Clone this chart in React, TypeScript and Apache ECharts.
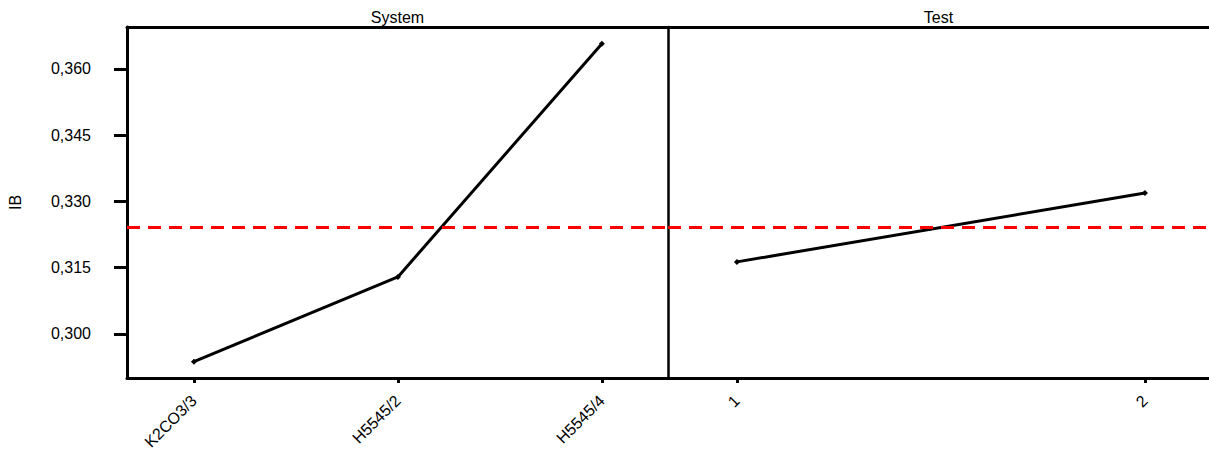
import React, { useEffect, useRef } from "react";
import * as echarts from "echarts";

// Main effects plot for IB: factor level means and the grand mean
const systemLevels = ["K2CO3/3", "H5545/2", "H5545/4"];
const systemMeans = [0.2937, 0.3129, 0.3657];
const testLevels = ["1", "2"];
const testMeans = [0.3163, 0.3319];
const grandMean = 0.3241;
const yTickValues = [0.3, 0.315, 0.33, 0.345, 0.36];

const FONT = 'Arial, "Liberation Sans", sans-serif';
const Y_MIN = 0.29;
const Y_MAX = 0.3695;

export default function App() {
  const ref = useRef<HTMLDivElement>(null);

  useEffect(() => {
    if (!ref.current) return;
    const chart = echarts.init(ref.current, null, { renderer: "svg" });

    const fmtY = (v: number) => v.toFixed(3).replace(".", ",");
    const sysIdx = systemLevels.map((_, i) => i);
    const testIdx = testLevels.map((_, i) => i);

    const bottomAxis = (gridIndex: number, min: number, max: number, idx: number[], names: string[]) => ({
      type: "value",
      gridIndex,
      position: "bottom",
      min,
      max,
      splitLine: { show: false },
      axisLine: { show: true, onZero: false, lineStyle: { color: "#000", width: 3 } },
      axisTick: { show: true, customValues: idx, length: 5, lineStyle: { color: "#000", width: 3 } },
      axisLabel: {
        show: true,
        customValues: idx,
        rotate: 45,
        margin: 20,
        color: "#000",
        fontFamily: FONT,
        fontSize: 16,
        formatter: (v: number) => names[Math.round(v)] ?? "",
      },
    });

    const topAxis = (gridIndex: number, min: number, max: number, name: string) => ({
      type: "value",
      gridIndex,
      position: "top",
      min,
      max,
      name,
      nameLocation: "middle",
      nameGap: 2,
      nameTextStyle: { color: "#000", fontFamily: FONT, fontSize: 16 },
      splitLine: { show: false },
      axisLine: { show: true, onZero: false, lineStyle: { color: "#000", width: 3 } },
      axisTick: { show: false },
      axisLabel: { show: false },
    });

    const meanLine = {
      silent: true,
      symbol: "none",
      precision: 6,
      label: { show: false },
      lineStyle: { color: "#ff0000", width: 3, type: [13, 8] },
      data: [{ yAxis: grandMean }],
    };

    const lineSeries = (xAxisIndex: number, yAxisIndex: number, values: number[]) => ({
      type: "line",
      xAxisIndex,
      yAxisIndex,
      data: values.map((v, i) => [i, v]),
      symbol: "diamond",
      symbolSize: 6,
      itemStyle: { color: "#000" },
      lineStyle: { color: "#000", width: 3 },
      markLine: meanLine,
      z: 3,
    });

    chart.setOption({
      animation: false,
      backgroundColor: "#fff",
      grid: [
        { left: 127, top: 27, width: 541, height: 351, outerBoundsMode: "none", containLabel: false },
        { left: 668, top: 27, width: 541, height: 351, outerBoundsMode: "none", containLabel: false },
      ],
      xAxis: [
        bottomAxis(0, -0.328, 2.324, sysIdx, systemLevels),
        bottomAxis(1, -0.169, 1.157, testIdx, testLevels),
        topAxis(0, -0.328, 2.324, "System"),
        topAxis(1, -0.169, 1.157, "Test"),
      ],
      yAxis: [
        {
          type: "value",
          gridIndex: 0,
          min: Y_MIN,
          max: Y_MAX,
          name: "IB",
          nameLocation: "middle",
          nameGap: 104,
          nameTextStyle: { color: "#000", fontFamily: FONT, fontSize: 16 },
          splitLine: { show: false },
          axisLine: { show: true, onZero: false, lineStyle: { color: "#000", width: 3 } },
          axisTick: { show: true, customValues: yTickValues, length: 13, lineStyle: { color: "#000", width: 3 } },
          axisLabel: {
            show: true,
            customValues: yTickValues,
            margin: 36,
            color: "#000",
            fontFamily: FONT,
            fontSize: 16,
            formatter: fmtY,
          },
        },
        {
          type: "value",
          gridIndex: 1,
          min: Y_MIN,
          max: Y_MAX,
          splitLine: { show: false },
          axisLine: { show: true, onZero: false, lineStyle: { color: "#000", width: 2.5 } },
          axisTick: { show: false },
          axisLabel: { show: false },
        },
      ],
      series: [lineSeries(0, 0, systemMeans), lineSeries(1, 1, testMeans)],
    });

    return () => chart.dispose();
  }, []);

  return (
    <div
      ref={ref}
      style={{ position: "fixed", left: 0, top: 0, width: 1209, height: 455, background: "#fff" }}
    />
  );
}
